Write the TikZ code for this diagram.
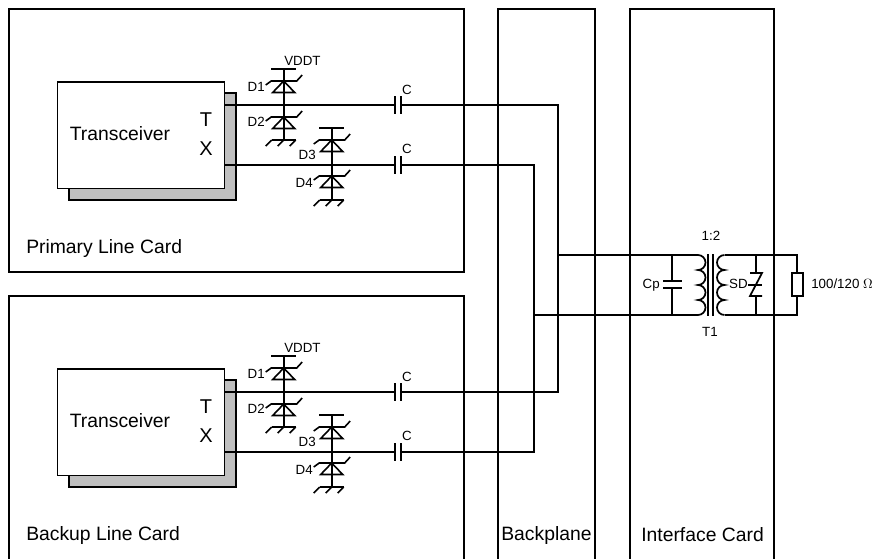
\documentclass[tikz,border=0pt]{standalone}
\usepackage{fontspec}
\setmainfont{Liberation Sans}
\tikzset{
  px/.style={x=0.75pt,y=-0.75pt},
  wire/.style={line width=1.3pt,line cap=butt,line join=miter},
  thin wire/.style={line width=1.2pt},
  shadowbox/.style={draw=black,line width=1.3pt,fill=black!25},
  lab/.style={inner sep=0pt,font=\fontsize{14.5}{16}\selectfont},
  big/.style={inner sep=0pt,font=\fontsize{15}{17}\selectfont},
  small/.style={inner sep=0pt,font=\fontsize{10}{12}\selectfont},
}
\newcommand{\zdiode}[2]{% x, bar y
  \draw[thin wire] (#1-18,#2+4) -- (#1-12.5,#2) -- (#1+13,#2) -- (#1+18.5,#2-6);
  \draw[thin wire] (#1-11,#2+11.5) -- (#1+11,#2+11.5) -- (#1,#2) -- cycle;
}
\newcommand{\gnd}[2]{% x, bar y
  \draw[thin wire] (#1-12,#2) -- (#1+12,#2);
  \foreach \k in {-12,0,12} \draw[thin wire] (#1+\k,#2) -- (#1+\k-6,#2+6);
}
\newcommand{\cpt}[2]{
  \draw[wire] (#1,#2-9) -- (#1,#2+9);
  \draw[wire] (#1+6,#2-9) -- (#1+6,#2+9);
}
\newcommand{\linecard}[2]{% y shift, name
  \begin{scope}[yshift=#1*-0.75pt]
  \draw[shadowbox] (69,93) rectangle (236,200);
  \node[draw=black,line width=1.3pt,fill=white,minimum width=125.25pt,minimum height=80pt,inner sep=0pt,anchor=north west] (tr#2) at (56.5,81) {};
  \node[lab,anchor=center] (trt#2) at (120,134) {Transceiver};
  \node[big] (tt#2) at (206,120) {T};
  \node[big] (tx#2) at (206,149) {X};
  \coordinate (a#2) at (224,105);
  \coordinate (b#2) at (224,165);
  \draw[wire] (283.7,69) -- (283.7,140);
  \draw[wire] (271,69) -- (296,69);
  \zdiode{283.7}{81}
  \zdiode{283.7}{117}
  \gnd{283.7}{140}
  \draw[wire] (331.7,128) -- (331.7,200);
  \draw[wire] (319,128) -- (344,128);
  \zdiode{331.7}{140}
  \zdiode{331.7}{176}
  \gnd{331.7}{200}
  \node[small,anchor=south west] (v#2) at (284,66) {VDDT};
  \node[small,anchor=east] (d1#2) at (265,87) {D1};
  \node[small,anchor=east] (d2#2) at (265,122) {D2};
  \node[small,anchor=east] (d3#2) at (316,155) {D3};
  \node[small,anchor=east] (d4#2) at (313,183) {D4};
  \node[small] (c1#2) at (407,90) {C};
  \node[small] (c2#2) at (407,149) {C};
  \cpt{395}{105}
  \cpt{395}{165}
  \coordinate (e#2) at (395,105);
  \coordinate (f#2) at (395,165);
  \coordinate (g#2) at (401,105);
  \coordinate (h#2) at (401,165);
  \draw[wire] (a#2) -- (e#2);
  \draw[wire] (b#2) -- (f#2);
  \end{scope}
}
\begin{document}
\begin{tikzpicture}[px]
\useasboundingbox (0,0) rectangle (877,558);
\clip (0,0) rectangle (877,558);
\draw[wire] (9,9) rectangle (464,272);
\draw[wire] (9,296) rectangle (464,570);
\draw[wire] (498,9) rectangle (595,570);
\draw[wire] (630,9) rectangle (774,570);
\node[lab,anchor=west] (pl) at (26,248) {Primary Line Card};
\node[lab,anchor=west] (bl) at (26,535) {Backup Line Card};
\node[lab,anchor=west] (bp) at (501,535) {Backplane};
\node[lab,anchor=west] (ic) at (641,535) {Interface Card};
\linecard{0}{p}
\linecard{287}{q}
\coordinate (j1) at (558,255);
\coordinate (j2) at (534,315);
\draw[wire] (gp) -- (558,105) -- (558,392) -- (gq);
\draw[wire] (hp) -- (534,165) -- (534,452) -- (hq);
\coordinate (lt) at (698,255);
\coordinate (lb) at (698,315);
\coordinate (rt) at (724.5,255);
\coordinate (rb) at (724.5,315);
\draw[wire] (j1) -- (lt);
\draw[wire] (j2) -- (lb);
\draw[wire] (lt) arc[start angle=-90,end angle=90,radius=7.5]
  arc[start angle=-90,end angle=90,radius=7.5]
  arc[start angle=-90,end angle=90,radius=7.5]
  arc[start angle=-90,end angle=90,radius=7.5];
\draw[wire] (rt) arc[start angle=270,end angle=90,radius=7.5]
  arc[start angle=270,end angle=90,radius=7.5]
  arc[start angle=270,end angle=90,radius=7.5]
  arc[start angle=270,end angle=90,radius=7.5];
\draw[wire] (708,254) -- (708,316);
\draw[wire] (713,254) -- (713,316);
\draw[wire] (rt) -- (797,255) -- (797,273);
\draw[wire] (rb) -- (797,315) -- (797,296);
\node[draw=black,line width=1.3pt,minimum width=8.25pt,minimum height=17.25pt,inner sep=0pt,anchor=center] (res) at (797.5,284.5) {};
\draw[wire] (672,255) -- (672,281);
\draw[wire] (672,315) -- (672,288);
\draw[wire] (663,281) -- (682,281);
\draw[wire] (663,288) -- (682,288);
\draw[wire] (756,255) -- (756,273);
\draw[wire] (756,315) -- (756,296);
\draw[wire] (750,273) -- (762,273) -- (750,296) -- (762,296);
\draw[wire] (748,285) -- (762,285);
\node[small,anchor=east] (cp) at (660,285) {Cp};
\node[small,anchor=east] (sd) at (748,284) {SD};
\node[small] (r12) at (711,236) {1:2};
\node[small] (t1) at (710,332) {T1};
\node[small,anchor=west] (ohm) at (811,284) {100/120 $\Omega$};
\end{tikzpicture}
\end{document}
